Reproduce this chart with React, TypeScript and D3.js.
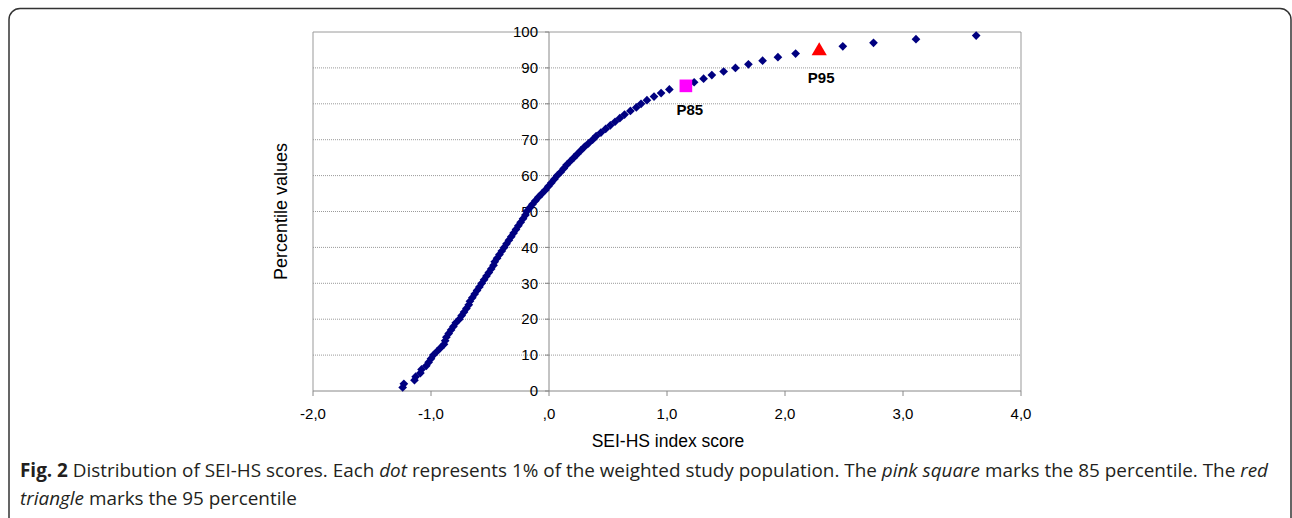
import React from 'react';
import * as d3 from 'd3';

// percentile (1..99) and SEI-HS score
const PERCENTILES = d3.range(1, 100);
const SCORES = [
  -1.24, -1.23, -1.14, -1.13, -1.09, -1.08, -1.04, -1.02, -1.0, -0.98,
  -0.95, -0.92, -0.89, -0.88, -0.87, -0.85, -0.83, -0.81, -0.79, -0.76,
  -0.74, -0.72, -0.7, -0.68, -0.67, -0.65, -0.63, -0.61, -0.59, -0.57,
  -0.55, -0.53, -0.51, -0.49, -0.47, -0.46, -0.44, -0.42, -0.4, -0.38,
  -0.36, -0.34, -0.32, -0.3, -0.28, -0.26, -0.24, -0.22, -0.2, -0.19,
  -0.165, -0.14, -0.115, -0.09, -0.06, -0.03, -0.005, 0.02, 0.045, 0.07,
  0.1, 0.125, 0.15, 0.18, 0.21, 0.24, 0.27, 0.3, 0.335, 0.37,
  0.4, 0.44, 0.48, 0.52, 0.56, 0.6, 0.64, 0.69, 0.74, 0.78,
  0.83, 0.89, 0.95, 1.02, 1.16, 1.23, 1.31, 1.38, 1.48, 1.58,
  1.69, 1.81, 1.94, 2.09, 2.29, 2.49, 2.75, 3.11, 3.62,
];

const X_TICKS = [-2, -1, 0, 1, 2, 3, 4];
const Y_TICKS = d3.range(0, 101, 10);
const MARKED = [
  { label: 'P85', pct: 85, kind: 'square' },
  { label: 'P95', pct: 95, kind: 'triangle' },
];

const CAPTION_LINE_1 = [
  { t: 'Fig. 2', b: true },
  { t: ' Distribution of SEI-HS scores. Each ' },
  { t: 'dot', i: true },
  { t: ' represents 1% of the weighted study population. The ' },
  { t: 'pink square', i: true },
  { t: ' marks the 85 percentile. The ' },
  { t: 'red', i: true },
];
const CAPTION_LINE_2 = [
  { t: 'triangle', i: true },
  { t: ' marks the 95 percentile' },
];

const W = 1292, H = 518;
const plot = { left: 313, right: 1021, top: 32, bottom: 391 };

const fmtX = (d: number) => (d === 0 ? ',0' : d.toFixed(1).replace('.', ','));

export default function App() {
  const x = d3.scaleLinear().domain([-2, 4]).range([plot.left, plot.right]);
  const y = d3.scaleLinear().domain([0, 100]).range([plot.bottom, plot.top]);

  const diamond = d3.symbol(d3.symbolSquare, 38)();
  const square = d3.symbol(d3.symbolSquare, 160)();
  const tri = d3.symbol(d3.symbolTriangle, 100)();

  const pts = PERCENTILES.map((p, i) => ({ p, s: SCORES[i] }));
  const axisFont = '"Liberation Sans", Arial, sans-serif';

  const captionLine = (parts: any[], yy: number) => (
    <text x={20} y={yy} fontFamily='"Open Sans", sans-serif' fontSize={18.9} fill="#231f20">
      {parts.map((s, k) => (
        <tspan key={k} fontWeight={s.b ? 700 : 400} fontStyle={s.i ? 'italic' : 'normal'}>{s.t}</tspan>
      ))}
    </text>
  );

  return (
    <svg width={W} height={H} style={{ position: 'absolute', left: 0, top: 0, background: '#fff' }}>
      {/* panel frame */}
      <rect x={9} y={8.5} width={1282} height={560} rx={11} fill="none" stroke="#333" strokeWidth={1.5} />

      {/* grid */}
      {Y_TICKS.filter(t => t > 0).map(t => (
        <line key={t} x1={plot.left} x2={plot.right} y1={y(t)} y2={y(t)}
          stroke="#9a9a9a" strokeWidth={1} strokeDasharray={t === 100 ? undefined : '1,1'} />
      ))}
      <line x1={plot.left} x2={plot.left} y1={plot.top} y2={plot.bottom} stroke="#999" />
      <line x1={plot.right} x2={plot.right} y1={plot.top} y2={plot.bottom} stroke="#999" />

      {/* x axis */}
      <line x1={plot.left} x2={plot.right} y1={plot.bottom} y2={plot.bottom} stroke="#888" />
      {X_TICKS.map(t => (
        <g key={t}>
          <line x1={x(t)} x2={x(t)} y1={plot.bottom} y2={plot.bottom + 5} stroke="#888" />
          <text x={x(t)} y={plot.bottom + 28} textAnchor="middle" fontFamily={axisFont} fontSize={15} fill="#000">
            {fmtX(t)}
          </text>
        </g>
      ))}

      {/* y axis at x = 0 */}
      <line x1={x(0)} x2={x(0)} y1={plot.top} y2={plot.bottom} stroke="#888" />
      {Y_TICKS.map(t => (
        <g key={t}>
          <line x1={x(0) - 4} x2={x(0)} y1={y(t)} y2={y(t)} stroke="#888" />
          <text x={x(0) - 11} y={y(t)} dy="0.35em" textAnchor="end" fontFamily={axisFont} fontSize={15} fill="#000">
            {t}
          </text>
        </g>
      ))}

      {/* points */}
      {pts.filter(d => !MARKED.some(m => m.pct === d.p)).map(d => (
        <path key={d.p} d={diamond} transform={`translate(${x(d.s)},${y(d.p)}) rotate(45)`} fill="#000080" />
      ))}
      {MARKED.map(m => {
        const d = pts.find(q => q.p === m.pct)!;
        const isSq = m.kind === 'square';
        return (
          <g key={m.label}>
            <path d={isSq ? square : tri}
              transform={`translate(${x(d.s)},${y(d.p) + (isSq ? 0 : 1)})`}
              fill={isSq ? '#ff00ff' : '#ff0000'} />
            <text x={x(d.s) + (isSq ? 4 : 2)} y={y(d.p) + (isSq ? 29 : 33)} textAnchor="middle" fontFamily={axisFont}
              fontSize={15} fontWeight={700} fill="#000">{m.label}</text>
          </g>
        );
      })}

      {/* axis titles */}
      <text x={(plot.left + plot.right) / 2 + 1} y={447} textAnchor="middle" fontFamily={axisFont} fontSize={17.5} fill="#000">
        SEI-HS index score
      </text>
      <text transform={`translate(287,${(plot.top + plot.bottom) / 2}) rotate(-90)`} textAnchor="middle"
        fontFamily={axisFont} fontSize={18} fill="#000">
        Percentile values
      </text>

      {captionLine(CAPTION_LINE_1, 477)}
      {captionLine(CAPTION_LINE_2, 505)}
    </svg>
  );
}
